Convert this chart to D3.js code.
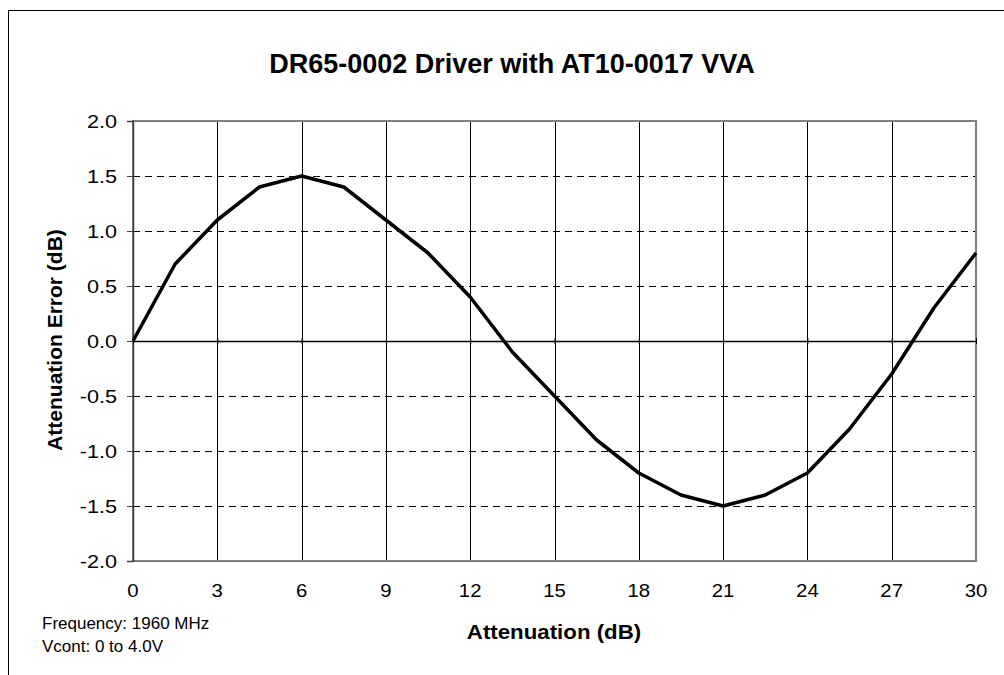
<!DOCTYPE html>
<html>
<head>
<meta charset="utf-8">
<script src="https://cdn.jsdelivr.net/npm/d3@7"></script>
<style>
	body { margin: 0; background: #fff; }
	text { font-family: "Liberation Sans", Arial, sans-serif; fill: #000; }
</style>
</head>
<body>
<script>

// Attenuation setting (dB), one point every 1.5 dB
var attenuation = [0, 1.5, 3, 4.5, 6, 7.5, 9, 10.5, 12, 13.5, 15, 16.5, 18, 19.5, 21, 22.5, 24, 25.5, 27, 28.5, 30];

// Attenuation error (dB)
var attError = [0, 0.7, 1.1, 1.4, 1.5, 1.4, 1.1, 0.8, 0.4, -0.1, -0.5, -0.9, -1.2, -1.4, -1.5, -1.4, -1.2, -0.8, -0.3, 0.3, 0.8];

// Tick values
var xTicks = [0, 3, 6, 9, 12, 15, 18, 21, 24, 27, 30];
var yTicks = [-2.0, -1.5, -1.0, -0.5, 0.0, 0.5, 1.0, 1.5, 2.0];

var notes = ["Frequency: 1960 MHz", "Vcont: 0 to 4.0V"];


const width = 1004;
const height = 675;

var svg = d3.select('body')
	.append('svg')
	.attr('width', width)
	.attr('height', height);

// outer chart frame (runs off the right and bottom edges)
svg.append('rect')
	.attr('x', 8.5)
	.attr('y', 10.5)
	.attr('width', 1100)
	.attr('height', 800)
	.attr('fill', 'none')
	.attr('stroke', '#000')
	.attr('stroke-width', 1);

var plot = { left: 133, top: 121, right: 976, bottom: 561 };

var xScale = d3.scaleLinear().domain([0, 30]).range([plot.left, plot.right]);
var yScale = d3.scaleLinear().domain([-2, 2]).range([plot.bottom, plot.top]);

// widen a label a bit, the original font is set wider than Arial
function widen(sel, factor) {
	sel.each(function() {
		var len = this.getComputedTextLength();
		d3.select(this)
			.attr('textLength', len * factor)
			.attr('lengthAdjust', 'spacingAndGlyphs');
	});
}

// horizontal dashed grid
svg.append('g')
	.selectAll('line')
	.data(yTicks.filter(d => d != 0 && d != 2 && d != -2))
	.enter().append('line')
	.attr('x1', plot.left)
	.attr('x2', plot.right)
	.attr('y1', d => Math.round(yScale(d)) + 0.5)
	.attr('y2', d => Math.round(yScale(d)) + 0.5)
	.attr('stroke', '#000')
	.attr('stroke-dasharray', '7,5');

// vertical solid grid
svg.append('g')
	.selectAll('line')
	.data(xTicks.filter(d => d != 0 && d != 30))
	.enter().append('line')
	.attr('x1', d => Math.round(xScale(d)) + 0.5)
	.attr('x2', d => Math.round(xScale(d)) + 0.5)
	.attr('y1', plot.top)
	.attr('y2', plot.bottom)
	.attr('stroke', '#000');

// plot border
svg.append('rect')
	.attr('x', plot.left)
	.attr('y', plot.top)
	.attr('width', plot.right - plot.left)
	.attr('height', plot.bottom - plot.top)
	.attr('fill', 'none')
	.attr('stroke', '#808080')
	.attr('stroke-width', 2);

// y axis
var yAxis = d3.axisLeft(yScale)
	.tickValues(yTicks)
	.tickFormat(d => d3.format('.1f')(d).replace('\u2212', '-'))
	.tickSize(6)
	.tickPadding(10);

var yAxisGroup = svg.append('g')
	.attr('transform', `translate(${plot.left},0)`)
	.call(yAxis);
yAxisGroup.select('.domain').attr('stroke', '#404040').attr('stroke-width', 1.5);
yAxisGroup.selectAll('.tick line').attr('stroke', '#404040');
yAxisGroup.selectAll('text')
	.attr('font-size', 18.5)
	.attr('font-family', '"Liberation Sans", Arial, sans-serif')
	.attr('fill', '#000')
	.attr('dy', '0.36em')
	.call(widen, 1.17);

// x axis through zero, ticks crossing
var xAxis = d3.axisBottom(xScale)
	.tickValues(xTicks)
	.tickFormat('')
	.tickSizeInner(3)
	.tickSizeOuter(0);

var xAxisGroup = svg.append('g')
	.attr('transform', `translate(0,${yScale(0)})`)
	.call(xAxis);
xAxisGroup.select('.domain').attr('stroke', '#000').attr('stroke-width', 1.5);
xAxisGroup.selectAll('.tick line')
	.attr('y1', -3)
	.attr('y2', 3)
	.attr('stroke', '#000');

// x tick labels under the plot
svg.append('g')
	.selectAll('text')
	.data(xTicks)
	.enter().append('text')
	.attr('x', d => xScale(d))
	.attr('y', 597)
	.attr('text-anchor', 'middle')
	.attr('font-size', 18.5)
	.text(d => d)
	.call(widen, 1.1);

// data line
var line = d3.line()
	.x((d, i) => xScale(attenuation[i]))
	.y(d => yScale(d));

svg.append('path')
	.datum(attError)
	.attr('d', line)
	.attr('fill', 'none')
	.attr('stroke', '#000')
	.attr('stroke-width', 3.5)
	.attr('stroke-linejoin', 'round');

// title
svg.append('text')
	.attr('x', 512)
	.attr('y', 72.5)
	.attr('text-anchor', 'middle')
	.attr('font-size', 27)
	.attr('font-weight', 'bold')
	.text('DR65-0002 Driver with AT10-0017 VVA');

// axis titles
svg.append('text')
	.attr('x', 554)
	.attr('y', 639)
	.attr('text-anchor', 'middle')
	.attr('font-size', 21)
	.attr('font-weight', 'bold')
	.text('Attenuation (dB)')
	.call(widen, 1.06);

svg.append('text')
	.attr('transform', `translate(62,340) rotate(-90)`)
	.attr('text-anchor', 'middle')
	.attr('font-size', 21)
	.attr('font-weight', 'bold')
	.text('Attenuation Error (dB)');

// footnotes
svg.append('g')
	.selectAll('text')
	.data(notes)
	.enter().append('text')
	.attr('x', 42)
	.attr('y', (d, i) => 629 + i * 23)
	.attr('font-size', 17)
	.text(d => d);

</script>
</body>
</html>
